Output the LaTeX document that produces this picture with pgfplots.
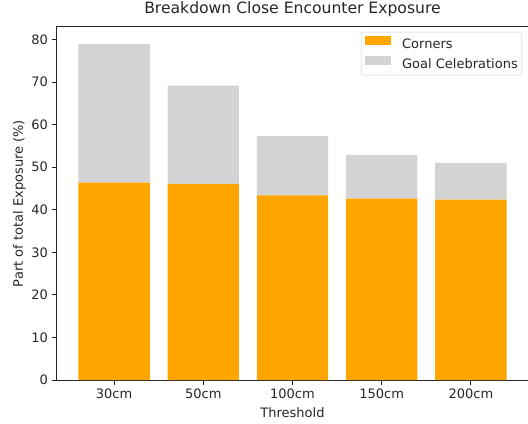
\documentclass[border=0pt]{standalone}
\usepackage{pgfplots}
\pgfplotsset{compat=1.18}
\usepackage{fontspec}
\setmainfont{DejaVu Sans}
\definecolor{corner}{HTML}{FFA500}
\definecolor{goal}{HTML}{D3D3D3}
\definecolor{txt}{HTML}{262626}
\definecolor{lgframe}{HTML}{CCCCCC}
% patch legend with a gap before the text
\pgfplotsset{patchlegend/.style={legend image code/.code={\fill[##1, sharp corners] (0bp,0bp) rectangle (26bp,9bp); \path (37bp,0bp);}}}

\begin{document}
\begin{tikzpicture}[font=\fontsize{13bp}{15bp}\selectfont, text=txt]
\begin{axis}[
  scale only axis, width=471bp, height=353bp,
  ybar stacked, bar width=0.8,
  xmin=-0.64, xmax=4.64, ymin=0, ymax=82.95,
  xtick={0,1,2,3,4}, xticklabels={30cm,50cm,100cm,150cm,200cm},
  ytick={0,10,...,80},
  tick align=outside, tick pos=left, major tick length=4.5bp,
  /pgf/number format/assume math mode=true,
  axis line style={color=txt, line width=1bp},
  every tick/.style={color=txt, line width=1bp},
  xticklabel style={anchor=north, inner sep=0pt, yshift=-4.5bp},
  yticklabel style={anchor=east, inner sep=0pt, xshift=-4.5bp},
  title={Breakdown Close Encounter Exposure},
  title style={font=\fontsize{15.6bp}{18bp}\selectfont, at={(axis description cs:0.5,1)}, anchor=base, yshift=7.5bp, inner sep=0pt},
  xlabel={Threshold},
  xlabel style={at={(axis description cs:0.5,0)}, anchor=north, inner sep=0pt, yshift=-27bp},
  ylabel={Part of total Exposure (\%)},
  ylabel style={at={(axis description cs:-0.0722,0.5)}, rotate=0, anchor=base, inner sep=0pt},
  legend style={at={(axis description cs:1,1)}, anchor=north east, xshift=-6bp, yshift=-5bp,
    draw=lgframe, rounded corners=2bp, fill=white, inner xsep=4bp, inner ysep=4bp,
    row sep=4bp, nodes={inner sep=0pt, text height=10bp, text depth=3bp},
    font=\fontsize{13bp}{15bp}\selectfont},
  legend cell align=left,
]
\addplot[fill=corner, draw=none, patchlegend]
  coordinates {(0,46.4) (1,46.1) (2,43.4) (3,42.6) (4,42.4)};
\addplot[fill=goal, draw=none, patchlegend]
  coordinates {(0,32.5) (1,23.1) (2,13.9) (3,10.3) (4,8.6)};
\legend{Corners,Goal Celebrations}
\end{axis}
\pgfresetboundingbox
\path[use as bounding box] ([xshift=-57bp,yshift=-44bp]current axis.south west) rectangle ([yshift=27bp]current axis.north east);
\end{tikzpicture}
\end{document}
